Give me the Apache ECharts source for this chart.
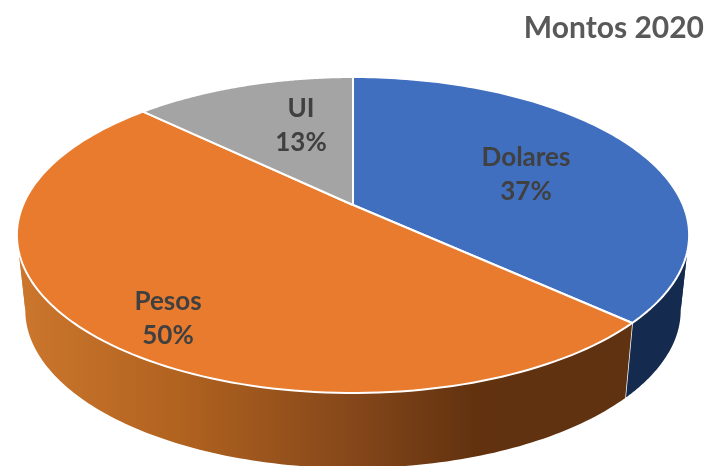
<!DOCTYPE html>
<html><head><meta charset="utf-8">
<style>html,body{margin:0;padding:0;background:#fff}#c{width:710px;height:466px}</style>
<script src="https://cdn.jsdelivr.net/npm/echarts@6/dist/echarts.min.js"></script>
</head><body><div id="c"></div>
<script>
const titleText = 'Montos 2020';
const categories = ['Dolares', 'Pesos', 'UI'];
const values = [36.8, 50.4, 12.8];
const topColors = ['#416FBF', '#E97B2E', '#A4A4A4'];

// Perspective layout of the tilted disc
const apex = {x: 353, y: 205}, spanX = 330, spanY = 152.3, persp = -0.19;
const depth = 75, bottomScale = 0.975;
const labelAt = [[526, 175], [168, 319], [301, 126]];
const wallFills = [
  [[0, '#16305A'], [1, '#142A4E']],
  [[0, '#CC762D'], [0.27, '#B0621F'], [0.55, '#85471A'], [0.75, '#62320F'], [1, '#5F3211']],
  [[0, '#77777A'], [1, '#6A6A6A']]
];
const total = values.reduce((a, b) => a + b, 0);
function sliceRange(i) {
  let s = 0;
  for (let k = 0; k < i; k++) s += values[k];
  return [s / total * Math.PI * 2, (s + values[i]) / total * Math.PI * 2];
}
function project(t) {
  const X = Math.sin(t), Y = -Math.cos(t), w = 1 + persp * Y;
  return [apex.x + spanX * X / w, apex.y + spanY * Y / w];
}
function projectBottom(t) {
  const p = project(t);
  return [apex.x + (p[0] - apex.x) * bottomScale, p[1] + depth];
}
function arc(r, fn) {
  const pts = [], n = 120;
  for (let j = 0; j <= n; j++) pts.push(fn(r[0] + (r[1] - r[0]) * j / n));
  return pts;
}
// Angles where the disc's outline turns back horizontally
const tangentA = Math.acos(persp), tangentB = Math.PI * 2 - tangentA;
function renderWall(params) {
  const i = params.dataIndex, r = sliceRange(i);
  const cuts = [r[0]];
  [tangentA, tangentB].forEach(t => { if (t > r[0] && t < r[1]) cuts.push(t); });
  cuts.push(r[1]);
  const stops = wallFills[i].map(s => ({offset: s[0], color: s[1]}));
  const grad = new echarts.graphic.LinearGradient(20, 0, 625, 0, stops, true);
  const children = [];
  for (let c = 0; c + 1 < cuts.length; c++) {
    const part = [cuts[c], cuts[c + 1]];
    children.push({type: 'polygon',
      shape: {points: arc(part, project).concat(arc(part, projectBottom).reverse())},
      style: {fill: grad}});
  }
  const a = project(r[1]), b = projectBottom(r[1]);
  children.push({type: 'line', shape: {x1: a[0], y1: a[1], x2: b[0], y2: b[1]},
    style: {stroke: '#fff', lineWidth: 1.5}});
  return {type: 'group', children};
}
function renderTop(params) {
  const i = params.dataIndex, r = sliceRange(i);
  const pts = [[apex.x, apex.y]].concat(arc(r, project));
  return {type: 'polygon', shape: {points: pts},
    style: {fill: topColors[i], stroke: '#fff', lineWidth: 2, lineJoin: 'round'}};
}
function renderLabel(params) {
  const i = params.dataIndex;
  return {type: 'text', x: labelAt[i][0], y: labelAt[i][1],
    style: {text: categories[i] + '\n' + Math.round(values[i]) + '%',
      font: 'bold 26px Lato', fill: '#404040', align: 'center', verticalAlign: 'middle', lineHeight: 34}};
}
const chart = echarts.init(document.getElementById('c'), null, {renderer: 'canvas'});
chart.setOption({
  animation: false,
  backgroundColor: '#fff',
  title: {text: titleText, right: 1, top: 8,
    textStyle: {fontFamily: 'Lato', fontWeight: 'bold', fontSize: 30, color: '#595959'}},
  series: [
    {type: 'custom', coordinateSystem: 'none', renderItem: renderWall, data: values, silent: true, z: 1},
    {type: 'custom', coordinateSystem: 'none', renderItem: renderTop, data: values, silent: true, z: 2},
    {type: 'custom', coordinateSystem: 'none', renderItem: renderLabel, data: values, silent: true, z: 3}
  ]
});
</script></body></html>
